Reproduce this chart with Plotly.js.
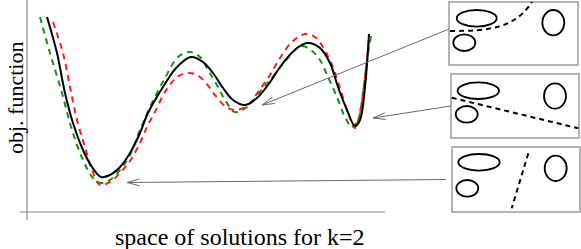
<!DOCTYPE html>
<html>
<head>
<meta charset="utf-8">
<script src="https://cdn.plot.ly/plotly-3.0.1.min.js"></script>
<style>
  html, body { margin: 0; padding: 0; background: #fff; }
  #chart { width: 581px; height: 249px; }
</style>
</head>
<body>
<div id="chart"></div>
<script>
// objective along the 1-d "space of solutions" (arbitrary units)
const solX = [20, 30, 38, 46, 56, 65, 74, 83, 93, 103, 113, 121, 136, 150, 164, 176, 186, 196, 206, 218, 230, 241, 256, 270, 281, 293, 303, 311, 320, 328, 333, 338, 342];
const solObj = [195, 159, 119, 89, 62, 45, 35, 37, 45, 59, 79, 99, 125, 145, 155, 150, 139, 124, 112, 107, 114, 127, 149, 164, 169, 164, 149, 125, 102, 86, 92, 125, 178];

const greenX = [13, 23, 35, 45, 56, 66, 74, 83, 93, 103, 113, 123, 138, 151, 163, 173, 181, 190, 198, 208, 220, 233, 243, 256, 266, 275, 284, 293, 301, 310, 318, 325, 331, 336, 340, 344];
const greenObj = [195, 159, 119, 82, 52, 34, 29, 32, 42, 57, 82, 105, 134, 155, 160, 155, 142, 127, 112, 100, 105, 120, 132, 148, 160, 166, 162, 152, 135, 115, 95, 85, 92, 119, 152, 176];

const redX = [26, 36, 43, 50, 58, 65, 73, 83, 93, 103, 113, 121, 128, 138, 149, 160, 170, 179, 188, 198, 208, 220, 231, 243, 253, 265, 278, 288, 296, 305, 313, 321, 328, 334, 338, 342];
const redObj = [190, 159, 125, 92, 65, 42, 27, 30, 39, 51, 69, 87, 100, 120, 134, 139, 137, 129, 117, 106, 102, 106, 120, 137, 154, 170, 178, 175, 165, 147, 124, 99, 84, 105, 135, 172];

const xTitle = 'space of solutions for k=2';
const yTitle = 'obj. function';

// plot area in page pixels
const L = 27, T = 3, W = 358, H = 209;
const px = x => (x - L) / W;
const py = y => (T + H - y) / H;

function seg(x0, y0, x1, y1, line) {
  return { type: 'line', xref: 'paper', yref: 'paper', x0: px(x0), y0: py(y0), x1: px(x1), y1: py(y1), line };
}
function box(x0, y0, x1, y1) {
  return { type: 'rect', xref: 'paper', yref: 'paper', x0: px(x0), y0: py(y0), x1: px(x1), y1: py(y1),
    line: { color: '#9a9a9a', width: 1.5 } };
}
function ellipse(cx, cy, rx, ry) {
  return { type: 'circle', xref: 'paper', yref: 'paper', x0: px(cx - rx), x1: px(cx + rx), y0: py(cy + ry), y1: py(cy - ry),
    line: { color: '#000', width: 1.8 } };
}
function arrow(x0, y0, x1, y1) {
  const line = { color: '#6a6a6a', width: 1 };
  const dx = x0 - x1, dy = y0 - y1, len = Math.hypot(dx, dy);
  const ux = dx / len, uy = dy / len, a = 15 * Math.PI / 180, hl = 13;
  const wing = s => [x1 + hl * (ux * Math.cos(s * a) - uy * Math.sin(s * a)),
                     y1 + hl * (ux * Math.sin(s * a) + uy * Math.cos(s * a))];
  const w1 = wing(1), w2 = wing(-1);
  return [seg(x0, y0, x1, y1, line), seg(x1, y1, w1[0], w1[1], line), seg(x1, y1, w2[0], w2[1], line)];
}

const insetDash = { color: '#000', width: 2, dash: '5px,4px' };
const curvePath = (pts) => 'M' + px(pts[0]) + ',' + py(pts[1]) + ' C' +
  [[pts[2], pts[3]], [pts[4], pts[5]], [pts[6], pts[7]]].map(p => px(p[0]) + ',' + py(p[1])).join(' ');

const shapes = [
  seg(20, 212, 385, 212, { color: '#8a8a8a', width: 1.2 }),
  seg(27, 220, 27, 0, { color: '#8a8a8a', width: 1.2 }),

  box(449, 2, 578, 65),
  ellipse(476.7, 18.3, 20, 8.3),
  ellipse(464.3, 42.7, 11, 8.3),
  ellipse(553.3, 22.7, 11, 12.7),
  { type: 'path', xref: 'paper', yref: 'paper', path: curvePath([450, 31, 490, 31, 515, 28, 532, 2]), line: insetDash },

  box(451, 74, 579, 138),
  ellipse(478.3, 90.7, 20.7, 8.3),
  ellipse(466.7, 114.3, 11, 8.3),
  ellipse(555, 96, 11, 12.7),
  seg(451.7, 97.7, 578.3, 128.3, insetDash),

  box(452, 147, 580, 212),
  ellipse(479, 162.3, 20.7, 8.3),
  ellipse(467.3, 188.3, 11, 8.3),
  ellipse(555.7, 168.3, 11, 12.7),
  seg(528.3, 153.3, 511.7, 208.3, insetDash),

  ...arrow(449, 29, 262, 105),
  ...arrow(451, 106, 373, 118),
  ...arrow(446, 179.5, 127, 182.5)
];

const traces = [
  { x: greenX, y: greenObj, mode: 'lines', type: 'scatter',
    line: { color: '#119111', width: 2, dash: '6px,5px', shape: 'spline', smoothing: 1 } },
  { x: redX, y: redObj, mode: 'lines', type: 'scatter',
    line: { color: '#ff1a1a', width: 2, dash: '6px,5px', shape: 'spline', smoothing: 1 } },
  { x: solX, y: solObj, mode: 'lines', type: 'scatter',
    line: { color: '#000', width: 2, shape: 'spline', smoothing: 1 } }
];

const hidden = { showgrid: false, zeroline: false, showticklabels: false, showline: false, ticks: '', fixedrange: true };

Plotly.newPlot('chart', traces, {
  width: 581,
  height: 249,
  margin: { l: L, r: 581 - L - W, t: T, b: 249 - T - H },
  paper_bgcolor: '#fff',
  plot_bgcolor: '#fff',
  showlegend: false,
  xaxis: { ...hidden, range: [0, W] },
  yaxis: { ...hidden, range: [0, H] },
  shapes,
  annotations: [
    { xref: 'paper', yref: 'paper', x: px(240), y: py(237), text: xTitle, showarrow: false,
      xanchor: 'center', yanchor: 'middle', font: { family: 'Liberation Serif', size: 24, color: '#000' } },
    { xref: 'paper', yref: 'paper', x: px(15), y: py(98), text: yTitle, showarrow: false, textangle: -90,
      xanchor: 'center', yanchor: 'middle', font: { family: 'Liberation Serif', size: 22, color: '#000' } }
  ]
}, { displayModeBar: false, staticPlot: true });
</script>
</body>
</html>
